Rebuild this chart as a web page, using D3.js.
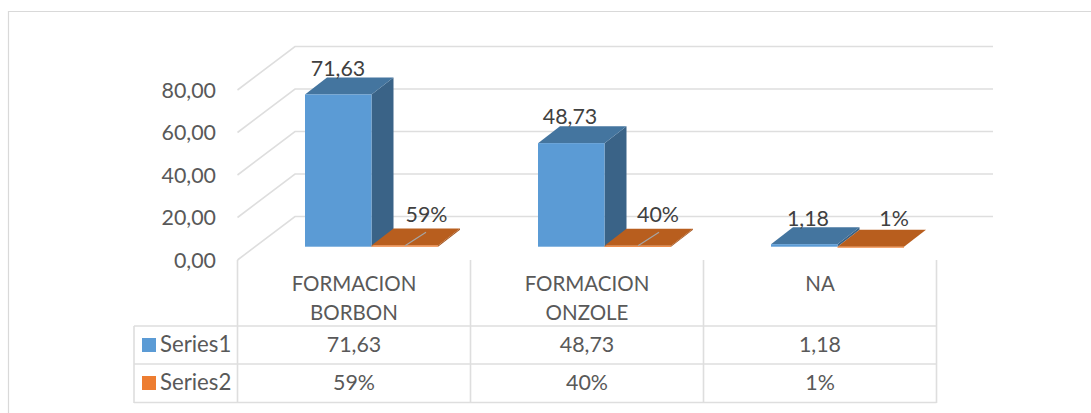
<!DOCTYPE html>
<html><head><meta charset="utf-8">
<script src="https://cdn.jsdelivr.net/npm/d3@7/dist/d3.min.js"></script>
<style>html,body{margin:0;padding:0;background:#fff}svg{display:block}text{font-family:Lato,"Open Sans",sans-serif}</style>
</head><body><svg id="c" width="1091" height="413"></svg>
<script>
const categories = [["FORMACION","BORBON"],["FORMACION","ONZOLE"],["NA"]];
const seriesNames = ["Series1","Series2"];
const series1 = [71.63,48.73,1.18];
const series2 = [0.59,0.40,0.01];
const series1Labels = ["71,63","48,73","1,18"];
const series2Labels = ["59%","40%","1%"];
const yTicks = [0,20,40,60,80];
const tickLabels = ["0,00","20,00","40,00","60,00","80,00"];

const svg = d3.select("#c");
const grey="#d9d9d9", txt="#595959", lab="#404040";
const numSize=21.4, catSize=20.5, nameSize=22.2;
const catIdx = categories.map((d,i)=>i);
const x0 = d3.scaleBand().domain(catIdx).range([237.5,936.5]);
const xs = d3.scaleBand().domain([0,1]).range([67.5,200.5]);
const yFront = d3.scaleLinear().domain([0,80]).range([260,90]);
const yBack = d3.scaleLinear().domain([0,80]).range([216.5,46.5]);
const yBar = d3.scaleLinear().domain([0,80]).range([246.7,76.7]);
const wallDx=57.5, wallRight=993, dx=22, dy=-17;

// outer frame
svg.append("path").attr("d","M8.5,413V11.5H1091").attr("fill","none").attr("stroke",grey).attr("stroke-width",1.2);

// grid
const g = svg.append("g").attr("fill","none").attr("stroke","#dedede").attr("stroke-width",1.6);
yTicks.forEach(t=>{
  g.append("path").attr("d",d3.line()([[237.5,yFront(t)],[237.5+wallDx,yBack(t)],[wallRight,yBack(t)]]));
});

// y axis labels via d3 axis
const ax = svg.append("g").attr("transform","translate(216,0)")
  .call(d3.axisLeft(yFront).tickValues(yTicks).tickSize(0).tickFormat((d,i)=>tickLabels[i]));
ax.select(".domain").remove();
ax.selectAll("text").attr("font-family","Lato").attr("font-size",numSize).attr("fill",txt).attr("x",0).attr("dy","0.34em");

// table
const tb = svg.append("g").attr("fill","none").attr("stroke","#dedede").attr("stroke-width",1.6);
const tableEdges = x0.domain().map(d=>x0(d)).concat([936.5]);
tableEdges.forEach(x=>tb.append("line").attr("x1",x).attr("x2",x).attr("y1",260).attr("y2",403));
[326,364,402.5].forEach(y=>tb.append("line").attr("x1",134).attr("x2",936.5).attr("y1",y).attr("y2",y));
tb.append("line").attr("x1",134).attr("x2",134).attr("y1",326).attr("y2",403);

function box(x,w,v,i){
  const y0=yBar(0), y1=yBar(v), b=x+w;
  const colors=[["#5b9bd5","#44759f","#3a6387"],["#ed7d31","#b85e1e","#a2521a"]][i];
  const s=svg.append("g");
  s.append("path").attr("fill",colors[2]).attr("d",d3.line()([[b,y0],[b+dx,y0+dy],[b+dx,y1+dy],[b,y1]]));
  s.append("path").attr("fill",colors[1]).attr("d",d3.line()([[x,y1],[x+dx,y1+dy],[b+dx,y1+dy],[b,y1]]));
  s.append("rect").attr("x",x).attr("y",y1).attr("width",w).attr("height",Math.max(y0-y1,1)).attr("fill",colors[0]);
}
catIdx.forEach(c=>{
  box(x0(c)+xs(0),xs.bandwidth(),series1[c],0);
  box(x0(c)+xs(1),xs.bandwidth(),series2[c],1);
});
// leader lines
catIdx.slice(0,2).forEach(c=>{
  const x=x0(c)+xs(1)+33.5;
  svg.append("line").attr("x1",x).attr("x2",x+21).attr("y1",yBar(0)-1).attr("y2",yBar(0)-14.5).attr("stroke","#a6a6a6").attr("stroke-width",1.2);
});
// data labels
const label=(x,y,t)=>svg.append("text").attr("x",x).attr("y",y).attr("text-anchor","middle").attr("font-size",numSize).attr("fill",lab).text(t);
const l1y=[75.5,124,226], l2y=[222,222,226], l1x=[338,570,808], l2x=[426.5,658,894];
catIdx.forEach(c=>{label(l1x[c],l1y[c],series1Labels[c]);label(l2x[c],l2y[c],series2Labels[c]);});

// table text
const mid=c=>x0(c)+x0.bandwidth()/2;
catIdx.forEach(c=>{
  categories[c].forEach((t,k)=>svg.append("text").attr("x",mid(c)).attr("y",290.5+k*29).attr("text-anchor","middle").attr("font-size",catSize).attr("fill",txt).text(t));
  svg.append("text").attr("x",mid(c)).attr("y",352).attr("text-anchor","middle").attr("font-size",numSize).attr("fill",txt).text(series1Labels[c]);
  svg.append("text").attr("x",mid(c)).attr("y",390).attr("text-anchor","middle").attr("font-size",numSize).attr("fill",txt).text(series2Labels[c]);
});
seriesNames.forEach((n,i)=>{
  svg.append("rect").attr("x",142).attr("y",338+i*38).attr("width",14).attr("height",14).attr("fill",i?"#ed7d31":"#5b9bd5");
  svg.append("text").attr("x",160).attr("y",352+i*38).attr("font-size",nameSize).attr("fill",txt).text(n);
});
</script></body></html>
